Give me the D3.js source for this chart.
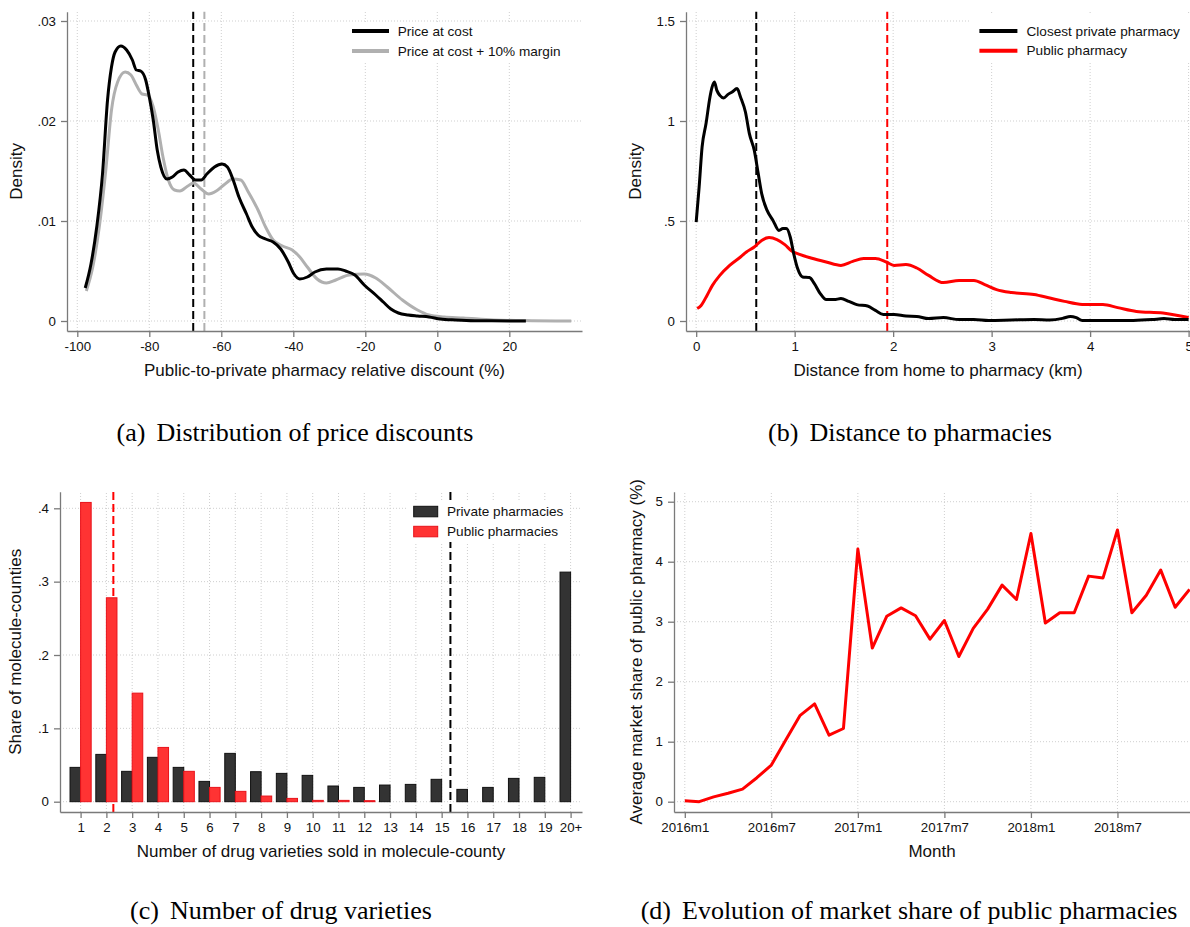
<!DOCTYPE html>
<html><head><meta charset="utf-8">
<script src="https://cdn.jsdelivr.net/npm/d3@7"></script>
<style>
body{margin:0;background:#fff;}
svg text{font-family:"Liberation Sans",Arial,Helvetica,sans-serif;fill:#111;}
.cap{font-family:"Liberation Serif","Times New Roman",serif;font-size:26px;fill:#000;}
.grid{stroke:#cfcfcf;stroke-width:1;stroke-dasharray:1,2;}
.axis .domain,.axis line{stroke:#7a7a7a;stroke-width:1.3;}
.axis text{font-size:13.3px;}
.ttl{font-size:17px;}
.leg{font-size:13.6px;}
</style></head><body>
<script>
// ---------- (a) price discount densities: [discount %, density] ----------
const costCurve = [[-97.8,0.0033],[-96.2,0.0057],[-94.6,0.0094],[-93.0,0.0147],[-91.6,0.0221],[-90.5,0.0254],[-89.5,0.0269],[-87.9,0.0275],[-86.3,0.0271],[-84.7,0.0261],[-83.6,0.0251],[-82.4,0.0250],[-81.0,0.0241],[-80.0,0.0224],[-78.9,0.0201],[-77.8,0.0171],[-76.8,0.0154],[-75.1,0.0142],[-73.6,0.0144],[-72.0,0.0149],[-70.4,0.0151],[-68.8,0.0146],[-67.2,0.0141],[-65.6,0.0141],[-64.0,0.0147],[-61.9,0.0154],[-59.8,0.0157],[-58.3,0.0154],[-56.7,0.0141],[-55.1,0.0124],[-53.0,0.0107],[-51.4,0.0094],[-49.8,0.0086],[-47.7,0.0082],[-45.6,0.0079],[-43.5,0.0072],[-41.4,0.0059],[-39.8,0.0047],[-38.2,0.0042],[-36.1,0.0044],[-34.0,0.0049],[-30.8,0.0052],[-27.6,0.0052],[-25.5,0.0050],[-22.9,0.0046],[-20.3,0.0036],[-17.1,0.0026],[-15.0,0.0019],[-12.9,0.0012],[-10.8,0.0008],[-8.1,0.0006],[-5.5,0.0005],[-2.3,0.0004],[0.8,0.0002],[5.1,0.0001],[10.3,0.00003],[24.6,0]];
const marginCurve = [[-97.5,0.0030],[-95.7,0.0054],[-93.9,0.0094],[-92.0,0.0154],[-90.5,0.0211],[-88.8,0.0239],[-86.7,0.0249],[-85.1,0.0246],[-83.6,0.0236],[-82.0,0.0227],[-80.5,0.0226],[-78.9,0.0214],[-77.5,0.0191],[-76.2,0.0164],[-74.7,0.0141],[-73.0,0.0131],[-71.5,0.0130],[-69.3,0.0135],[-67.7,0.0138],[-65.6,0.0132],[-63.5,0.0127],[-61.4,0.0130],[-59.3,0.0136],[-56.7,0.0142],[-54.6,0.0141],[-52.5,0.0129],[-49.8,0.0111],[-47.7,0.0094],[-45.6,0.0081],[-43.0,0.0075],[-40.3,0.0071],[-38.2,0.0064],[-36.1,0.0054],[-33.4,0.0042],[-30.8,0.0038],[-28.2,0.0041],[-24.5,0.0046],[-20.3,0.0047],[-17.1,0.0043],[-13.9,0.0034],[-9.7,0.0021],[-5.5,0.0011],[-2.3,0.0006],[1.9,0.0004],[7.2,0.0003],[15.6,0.0001],[26.2,0.00003],[37.2,0]];
const discountMeans = [-67.8, -64.7];
const discountXTicks = [-100,-80,-60,-40,-20,0,20];
const discountYTicks = [0,0.01,0.02,0.03];
const discountYLabels = ["0",".01",".02",".03"];
const discountSeries = ["Price at cost","Price at cost + 10% margin"];

// ---------- (b) distance densities: [km, density] ----------
const privateDist = [[0,0.495],[0.03,0.67],[0.06,0.87],[0.10,0.987],[0.14,1.12],[0.16,1.167],[0.185,1.195],[0.21,1.153],[0.24,1.128],[0.28,1.115],[0.32,1.132],[0.365,1.145],[0.415,1.162],[0.45,1.12],[0.50,1.045],[0.54,0.937],[0.59,0.853],[0.63,0.737],[0.665,0.637],[0.72,0.553],[0.78,0.503],[0.84,0.453],[0.88,0.462],[0.915,0.462],[0.955,0.42],[0.99,0.337],[1.03,0.262],[1.08,0.22],[1.15,0.217],[1.20,0.187],[1.26,0.137],[1.32,0.107],[1.40,0.107],[1.47,0.112],[1.55,0.098],[1.63,0.082],[1.74,0.075],[1.82,0.053],[1.90,0.033],[2.01,0.033],[2.13,0.025],[2.24,0.023],[2.36,0.012],[2.51,0.017],[2.67,0.007],[2.82,0.008],[2.97,0.003],[3.20,0.005],[3.43,0.007],[3.59,0.005],[3.72,0.013],[3.80,0.023],[3.86,0.017],[3.92,0.003],[4.17,0.003],[4.44,0.003],[4.63,0.007],[4.75,0.012],[4.86,0.007],[5.0,0.007]];
const publicDist = [[0.01,0.062],[0.05,0.078],[0.11,0.128],[0.165,0.178],[0.24,0.228],[0.34,0.278],[0.45,0.32],[0.51,0.345],[0.59,0.37],[0.665,0.403],[0.74,0.417],[0.82,0.407],[0.90,0.382],[0.97,0.35],[1.05,0.333],[1.165,0.315],[1.32,0.295],[1.47,0.278],[1.59,0.298],[1.70,0.312],[1.82,0.312],[1.93,0.295],[2.01,0.278],[2.13,0.282],[2.24,0.265],[2.36,0.228],[2.51,0.192],[2.67,0.203],[2.82,0.203],[2.93,0.182],[3.05,0.157],[3.20,0.142],[3.43,0.133],[3.59,0.115],[3.74,0.098],[3.92,0.083],[4.13,0.082],[4.28,0.067],[4.47,0.048],[4.74,0.04],[5.0,0.017]];
const distanceMeans = [0.61, 1.94];
const distanceXTicks = [0,1,2,3,4,5];
const distanceYTicks = [0,0.5,1,1.5];
const distanceYLabels = ["0",".5","1","1.5"];
const distanceSeries = ["Closest private pharmacy","Public pharmacy"];

// ---------- (c) number of drug varieties ----------
const varietyLabels = ["1","2","3","4","5","6","7","8","9","10","11","12","13","14","15","16","17","18","19","20+"];
const privateShare = [0.0468,0.0645,0.0414,0.0605,0.0468,0.0277,0.0659,0.0409,0.0386,0.0359,0.0214,0.0195,0.0227,0.0236,0.0305,0.0168,0.0195,0.0318,0.0332,0.313];
const publicShare = [0.408,0.278,0.148,0.074,0.0414,0.0195,0.0141,0.0077,0.0045,0.0018,0.0018,0.0014,0,0,0,0,0,0,0,0];
const varietyMeans = [2.27, 15.34]; // public, private (category position)
const varietyYTicks = [0,0.1,0.2,0.3,0.4];
const varietyYLabels = ["0",".1",".2",".3",".4"];
const varietySeries = ["Private pharmacies","Public pharmacies"];

// ---------- (d) monthly market share of public pharmacy (%), from 2016m1 ----------
const marketShare = [0.017,0.0,0.08,0.14,0.21,0.40,0.61,1.03,1.44,1.63,1.11,1.22,4.21,2.56,3.09,3.23,3.10,2.71,3.02,2.42,2.89,3.21,3.61,3.37,4.47,2.98,3.15,3.15,3.76,3.73,4.53,3.15,3.44,3.86,3.24,3.54];
const monthTicks = [0,6,12,18,24,30];
const monthLabels = ["2016m1","2016m7","2017m1","2017m7","2018m1","2018m7"];
const shareYTicks = [0,1,2,3,4,5];

// ---------- drawing ----------
const svg = d3.select("body").append("svg").attr("width",1190).attr("height",927);

function frame(o){
  const g = svg.append("g");
  const [x0,x1] = o.x.range(), [y0,y1] = o.y.range();
  g.append("g").selectAll("line").data(o.yTicks).join("line").attr("class","grid")
    .attr("x1",x0).attr("x2",x1).attr("y1",d=>o.y(d)).attr("y2",d=>o.y(d));
  g.append("g").selectAll("line").data(o.xTicks).join("line").attr("class","grid")
    .attr("x1",d=>o.x(d)).attr("x2",d=>o.x(d)).attr("y1",y0).attr("y2",y1);
  return g;
}
function axes(g,o){
  const [x0,x1] = o.x.range(), [y0,y1] = o.y.range();
  g.append("g").attr("class","axis").attr("transform",`translate(0,${y0})`)
    .call(d3.axisBottom(o.x).tickValues(o.xTicks).tickFormat((d,i)=>o.xLabels[i]).tickSize(6).tickPadding(5).tickSizeOuter(0));
  g.append("g").attr("class","axis").attr("transform",`translate(${x0},0)`)
    .call(d3.axisLeft(o.y).tickValues(o.yTicks).tickFormat((d,i)=>o.yLabels[i]).tickSize(6).tickPadding(5).tickSizeOuter(0));
  g.append("text").attr("class","ttl").attr("text-anchor","middle")
    .attr("x",(x0+x1)/2).attr("y",o.xTitleY).text(o.xTitle);
  g.append("text").attr("class","ttl").attr("text-anchor","middle")
    .attr("transform",`translate(${o.yTitleX},${(y0+y1)/2}) rotate(-90)`).text(o.yTitle);
}
function vlines(g,o,vals,colors){
  g.append("g").selectAll("line").data(vals).join("line")
    .attr("x1",d=>o.x(d)).attr("x2",d=>o.x(d)).attr("y1",o.y.range()[0]).attr("y2",o.y.range()[1])
    .attr("stroke",(d,i)=>colors[i]).attr("stroke-width",2).attr("stroke-dasharray","8,4");
}
function lineLegend(g,items,colors,box,lx0,lx1,tx,ys){
  g.append("rect").attr("x",box[0]).attr("y",box[1]).attr("width",box[2]).attr("height",box[3]).attr("fill","#fff");
  items.forEach((t,i)=>{
    g.append("line").attr("x1",lx0).attr("x2",lx1).attr("y1",ys[i]).attr("y2",ys[i])
      .attr("stroke",colors[i]).attr("stroke-width",4);
    g.append("text").attr("class","leg").attr("x",tx).attr("y",ys[i]).attr("dy","0.35em").text(t);
  });
}
function caption(label,text,cx,y){
  const t = svg.append("text").attr("class","cap").attr("text-anchor","middle").attr("x",cx).attr("y",y);
  t.append("tspan").text(label);
  t.append("tspan").attr("dx",11).text(text);
}

// (a)
{
  const o = {
    x: d3.scaleLinear().domain([-102.86,40.19]).range([67,582]),
    y: d3.scaleLinear().domain([-0.001,0.03093]).range([331,11.7]),
    xTicks: discountXTicks, xLabels: discountXTicks.map(String),
    yTicks: discountYTicks, yLabels: discountYLabels,
    xTitle: "Public-to-private pharmacy relative discount (%)", xTitleY: 376,
    yTitle: "Density", yTitleX: 22
  };
  const g = frame(o);
  vlines(g,o,discountMeans,["#000","#b0b0b0"]);
  const line = d3.line().x(d=>o.x(d[0])).y(d=>o.y(d[1])).curve(d3.curveMonotoneX);
  g.append("path").datum(marginCurve).attr("d",line).attr("fill","none").attr("stroke","#b0b0b0").attr("stroke-width",3);
  g.append("path").datum(costCurve).attr("d",line).attr("fill","none").attr("stroke","#000").attr("stroke-width",3);
  lineLegend(g,discountSeries,["#000","#b0b0b0"],[345,23,228,40],352,389,397.7,[31,51]);
  axes(g,o);
}
// (b)
{
  const o = {
    x: d3.scaleLinear().domain([-0.1034,5.0142]).range([686,1190]),
    y: d3.scaleLinear().domain([-0.05,1.5465]).range([331,11.7]),
    xTicks: distanceXTicks, xLabels: distanceXTicks.map(String),
    yTicks: distanceYTicks, yLabels: distanceYLabels,
    xTitle: "Distance from home to pharmacy (km)", xTitleY: 376,
    yTitle: "Density", yTitleX: 641
  };
  const g = frame(o);
  vlines(g,o,distanceMeans,["#000","#ff0000"]);
  const line = d3.line().x(d=>o.x(d[0])).y(d=>o.y(d[1])).curve(d3.curveMonotoneX);
  g.append("path").datum(publicDist).attr("d",line).attr("fill","none").attr("stroke","#ff0000").attr("stroke-width",3);
  g.append("path").datum(privateDist).attr("d",line).attr("fill","none").attr("stroke","#000").attr("stroke-width",3);
  lineLegend(g,distanceSeries,["#000","#ff0000"],[971,15,219,47],979.4,1017.4,1026.5,[31,50.7]);
  axes(g,o);
}
// (c)
{
  const idx = varietyLabels.map((d,i)=>i+1);
  const o = {
    x: d3.scaleLinear().domain([0.2013,20.442]).range([60,582]),
    y: d3.scaleLinear().domain([-0.01404,0.42263]).range([812,491.7]),
    xTicks: idx, xLabels: varietyLabels,
    yTicks: varietyYTicks, yLabels: varietyYLabels,
    xTitle: "Number of drug varieties sold in molecule-county", xTitleY: 857,
    yTitle: "Share of molecule-counties", yTitleX: 21
  };
  const g = frame(o);
  vlines(g,o,varietyMeans,["#ff0000","#000"]);
  const bw = 0.41, y0 = o.y(0);
  g.append("g").selectAll("rect").data(privateShare).join("rect")
    .attr("x",(d,i)=>o.x(i+1-bw)).attr("width",o.x(1)-o.x(1-bw))
    .attr("y",d=>o.y(d)).attr("height",d=>y0-o.y(d))
    .attr("fill","#333").attr("stroke","#111").attr("stroke-width",1);
  g.append("g").selectAll("rect").data(publicShare.map((v,i)=>({v,i})).filter(d=>d.v>0)).join("rect")
    .attr("x",d=>o.x(d.i+1)).attr("width",o.x(1+bw)-o.x(1))
    .attr("y",d=>o.y(d.v)).attr("height",d=>y0-o.y(d.v))
    .attr("fill","#ff3333").attr("stroke","#e8121a").attr("stroke-width",1);
  g.append("rect").attr("x",406).attr("y",502).attr("width",162).attr("height",40).attr("fill","#fff");
  const lc = [["#333","#111"],["#ff3333","#e8121a"]];
  varietySeries.forEach((t,i)=>{
    g.append("rect").attr("x",413.7).attr("y",506.3+20*i).attr("width",24).attr("height",10.5)
      .attr("fill",lc[i][0]).attr("stroke",lc[i][1]);
    g.append("text").attr("class","leg").attr("x",447).attr("y",511.7+20*i).attr("dy","0.35em").text(t);
  });
  axes(g,o);
}
// (d)
{
  const o = {
    x: d3.scaleLinear().domain([-0.749,35.03]).range([674,1190]),
    y: d3.scaleLinear().domain([-0.1717,5.167]).range([812,491.7]),
    xTicks: monthTicks, xLabels: monthLabels,
    yTicks: shareYTicks, yLabels: shareYTicks.map(String),
    xTitle: "Month", xTitleY: 857,
    yTitle: "Average market share of public pharmacy (%)", yTitleX: 642
  };
  const g = frame(o);
  const line = d3.line().x((d,i)=>o.x(i)).y(d=>o.y(d));
  g.append("path").datum(marketShare).attr("d",line).attr("fill","none").attr("stroke","#ff0000").attr("stroke-width",3).attr("stroke-linejoin","round");
  axes(g,o);
}

caption("(a)","Distribution of price discounts",295,441);
caption("(b)","Distance to pharmacies",910,441);
caption("(c)","Number of drug varieties",281,919);
caption("(d)","Evolution of market share of public pharmacies",909,919);
</script>
</body></html>
